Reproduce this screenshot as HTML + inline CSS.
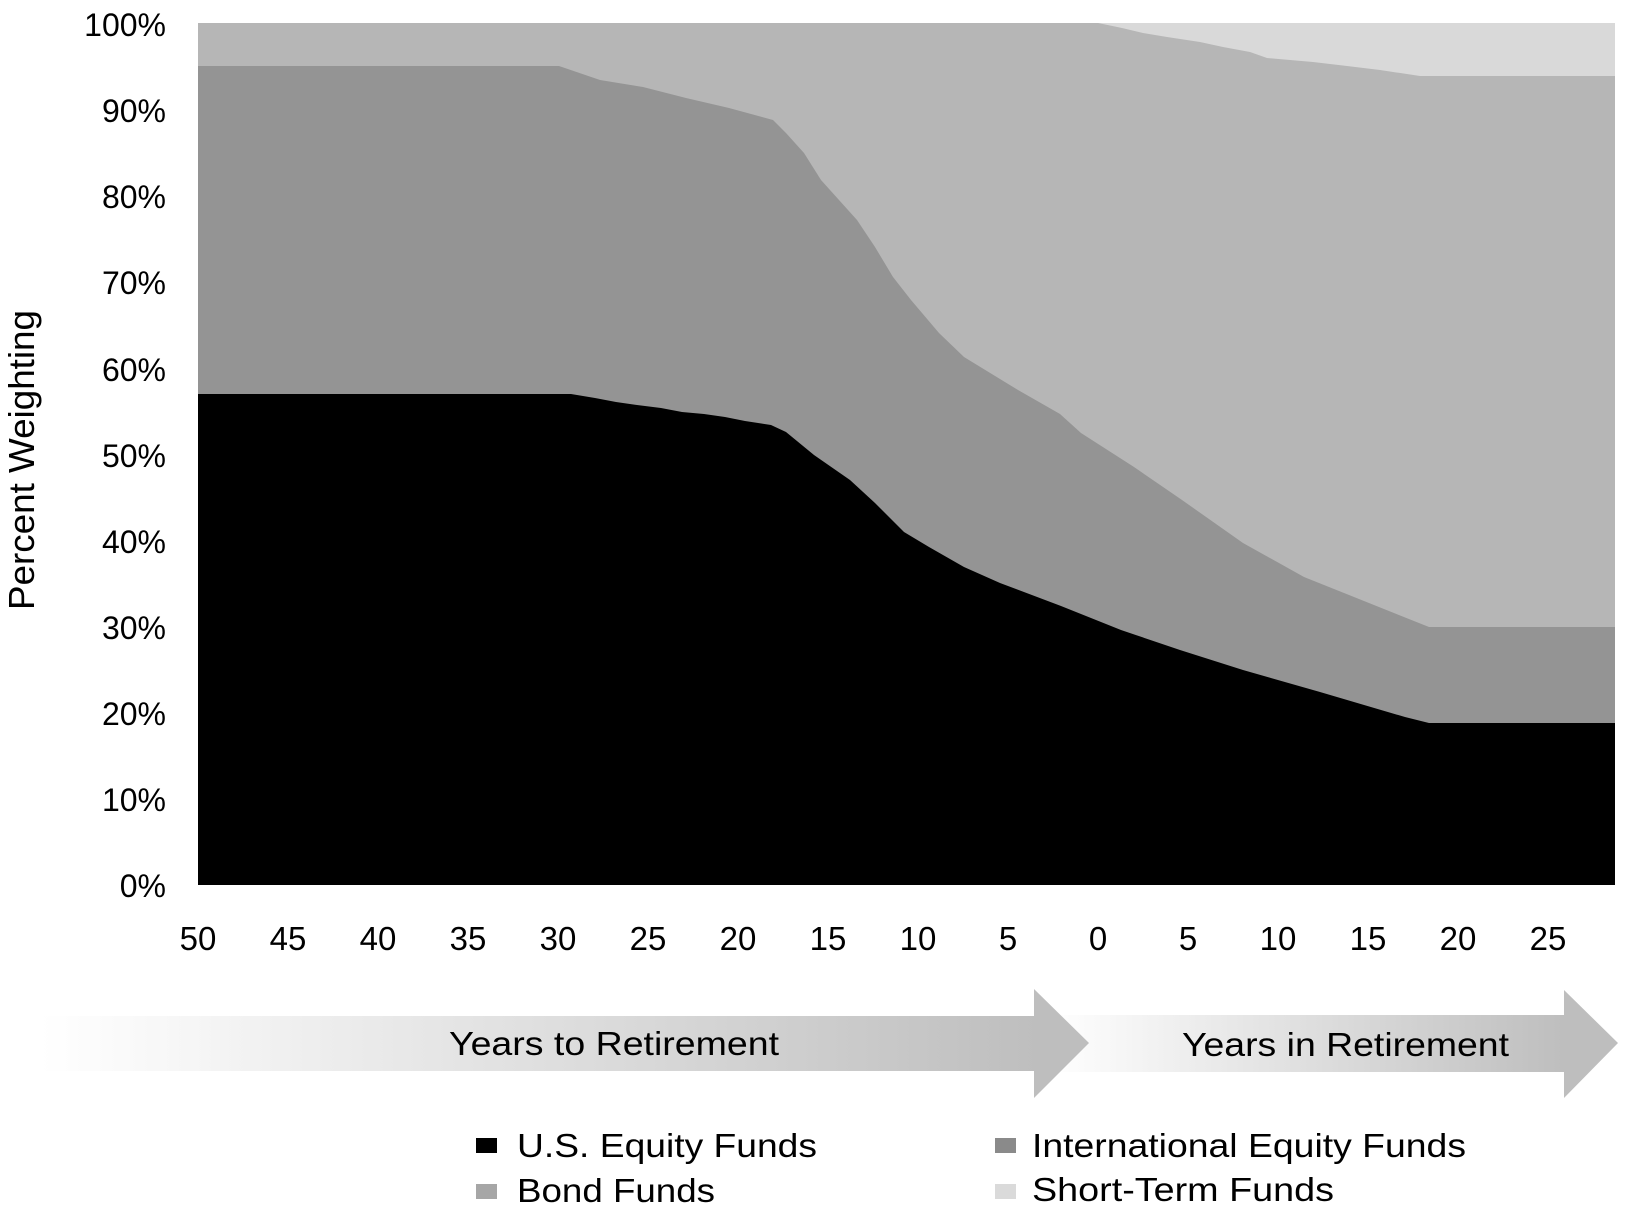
<!DOCTYPE html>
<html>
<head>
<meta charset="utf-8">
<style>
html,body{margin:0;padding:0;background:#fff;}
svg{display:block;}
text{font-family:"Liberation Sans",Arial,sans-serif;fill:#000;}
</style>
</head>
<body>
<svg width="1625" height="1210" viewBox="0 0 1625 1210" xmlns="http://www.w3.org/2000/svg">
<defs>
<linearGradient id="g1" gradientUnits="userSpaceOnUse" x1="40" y1="0" x2="1040" y2="0">
<stop offset="0" stop-color="#ffffff"/>
<stop offset="0.15" stop-color="#f6f6f6"/>
<stop offset="1" stop-color="#bebebe"/>
</linearGradient>
<linearGradient id="g2" gradientUnits="userSpaceOnUse" x1="1050" y1="0" x2="1565" y2="0">
<stop offset="0" stop-color="#ffffff"/>
<stop offset="1" stop-color="#bebebe"/>
</linearGradient>
</defs>

<!-- plot areas -->
<rect x="198" y="23" width="1417" height="862" fill="#d9d9d9"/>
<polygon fill="#b6b6b6" points="198,885 198,23 1098,23 1122,28 1143,33 1167,37 1200,42 1223,47 1250,52 1267,58 1313,62 1347,66 1380,70 1420,76 1615,76 1615,885"/>
<polygon fill="#949494" points="198,885 198,66 559,66 600,80 643,87 686,98 729,108 773,120 786,133 804,153 821,180 839,200 857,220 875,247 893,277 911,300 939,333 964,357 1018,390 1060,414 1081,433 1134,467 1182,500 1243,543 1304,577 1344,593 1429,627 1615,627 1615,885"/>
<polygon fill="#000000" points="198,885 198,394 571,394 595,398 616,402 637,405 661,408 682,412 704,414 725,417 745,421 771,425 786,432 814,455 850,480 875,503 904,532 929,547 964,567 1000,583 1061,606 1121,630 1180,650 1243,670 1320,692 1405,717 1429,723 1615,723 1615,885"/>

<!-- y tick labels -->
<g font-size="32" text-anchor="end">
<text x="166" y="36">100%</text>
<text x="166" y="122">90%</text>
<text x="166" y="208">80%</text>
<text x="166" y="294">70%</text>
<text x="166" y="381">60%</text>
<text x="166" y="467">50%</text>
<text x="166" y="553">40%</text>
<text x="166" y="639">30%</text>
<text x="166" y="725">20%</text>
<text x="166" y="811">10%</text>
<text x="166" y="897">0%</text>
</g>

<!-- y title -->
<text font-size="36" transform="translate(34,610) rotate(-90)" textLength="300" lengthAdjust="spacingAndGlyphs">Percent Weighting</text>

<!-- x tick labels -->
<g font-size="33" text-anchor="middle">
<text x="198" y="950">50</text>
<text x="288" y="950">45</text>
<text x="378" y="950">40</text>
<text x="468" y="950">35</text>
<text x="558" y="950">30</text>
<text x="648" y="950">25</text>
<text x="738" y="950">20</text>
<text x="828" y="950">15</text>
<text x="918" y="950">10</text>
<text x="1008" y="950">5</text>
<text x="1098" y="950">0</text>
<text x="1188" y="950">5</text>
<text x="1278" y="950">10</text>
<text x="1368" y="950">15</text>
<text x="1458" y="950">20</text>
<text x="1548" y="950">25</text>
</g>

<!-- arrows -->
<polygon fill="url(#g2)" points="1050,1015 1564,1015 1564,990 1618,1043 1564,1098 1564,1072 1050,1072"/>
<polygon fill="url(#g1)" points="40,1016 1034,1016 1034,989 1089,1043 1034,1098 1034,1071 40,1071"/>
<text x="449" y="1055" font-size="33" textLength="330" lengthAdjust="spacingAndGlyphs">Years to Retirement</text>
<text x="1182" y="1056" font-size="33" textLength="327" lengthAdjust="spacingAndGlyphs">Years in Retirement</text>

<!-- legend -->
<rect x="476" y="1138" width="21" height="15" fill="#000"/>
<rect x="476" y="1184" width="21" height="15" fill="#a6a6a6"/>
<rect x="995" y="1138" width="21" height="15" fill="#8a8a8a"/>
<rect x="995" y="1184" width="21" height="15" fill="#dadada"/>
<text x="517" y="1157" font-size="33" textLength="300" lengthAdjust="spacingAndGlyphs">U.S. Equity Funds</text>
<text x="517" y="1202" font-size="33" textLength="198" lengthAdjust="spacingAndGlyphs">Bond Funds</text>
<text x="1032" y="1157" font-size="33" textLength="434" lengthAdjust="spacingAndGlyphs">International Equity Funds</text>
<text x="1032" y="1201" font-size="33" textLength="302" lengthAdjust="spacingAndGlyphs">Short-Term Funds</text>
</svg>
</body>
</html>
